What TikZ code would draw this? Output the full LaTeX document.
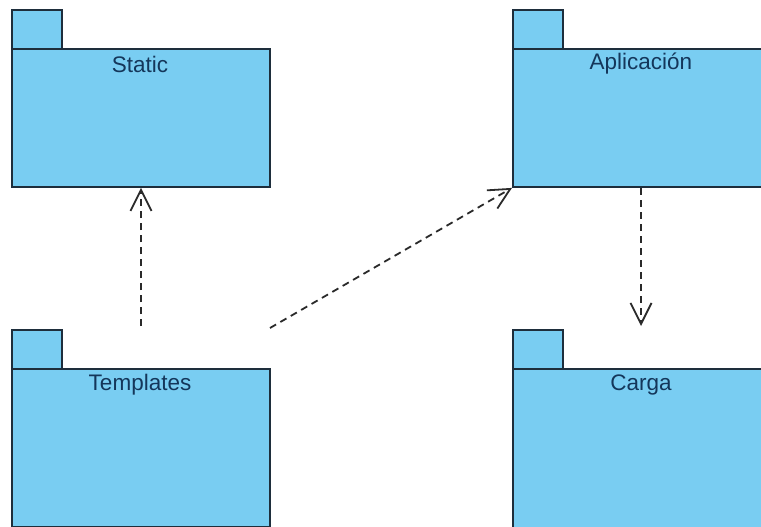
\documentclass[tikz,border=0pt]{standalone}
\usepackage{fontspec}
\setmainfont{Liberation Sans}
\usetikzlibrary{arrows.meta}
\definecolor{pkgfill}{HTML}{79CDF2}
\definecolor{pkgline}{HTML}{1E2E3C}
\definecolor{pkgtext}{HTML}{14365A}
\definecolor{deplines}{HTML}{2A2A2A}
\tikzset{
  pkgbody/.style={draw=pkgline, fill=pkgfill, line width=1.9pt, rectangle,
    anchor=north west, inner sep=0pt},
  pkgtab/.style={draw=pkgline, fill=pkgfill, line width=1.9pt, rectangle,
    anchor=north west, inner sep=0pt, minimum width=50pt, minimum height=39pt},
  pkglabel/.style={text=pkgtext, font=\fontsize{22.5}{24}\selectfont, inner sep=0pt},
  dep/.style={draw=deplines, line width=1.8pt, dash pattern=on 7pt off 5pt,
    -{Straight Barb[length=21pt,width=21pt,line width=1.8pt]}}
}
\begin{document}
\begin{tikzpicture}[x=1pt,y=-1pt]
  \useasboundingbox (0,0) rectangle (761,527);
  \fill[white] (0,0) rectangle (761,527);

  % Static
  \node[pkgtab] (stctab) at (11,9) {};
  \node[pkgbody, minimum width=258pt, minimum height=138pt] (stc) at (11,48) {};
  \node[pkglabel] (stclbl) at (140,64) {Static};

  % Aplicación
  \node[pkgtab] (apltab) at (512,9) {};
  \node[pkgbody, minimum width=260pt, minimum height=138pt] (apl) at (512,48) {};
  \node[pkglabel] (apllbl) at (641,64) {Aplicación};

  % Templates
  \node[pkgtab] (tpltab) at (11,329) {};
  \node[pkgbody, minimum width=258pt, minimum height=158pt] (tpl) at (11,368) {};
  \node[pkglabel] (tpllbl) at (140,385) {Templates};

  % Carga
  \node[pkgtab] (cartab) at (512,329) {};
  \node[pkgbody, minimum width=260pt, minimum height=170pt] (car) at (512,368) {};
  \node[pkglabel] (carlbl) at (641,385) {Carga};

  % dependency end points
  \coordinate (tplup) at (141,326);
  \coordinate (tplright) at (270,328);
  \coordinate (aplout) at (641,188);
  \coordinate (carin) at (641,326);

  % dependencies
  \draw[dep] (tplup) -- (stc.south -| tplup);
  \draw[dep] (tplright) -- (apl.south west);
  \draw[dep] (aplout) -- (carin);
\end{tikzpicture}
\end{document}
